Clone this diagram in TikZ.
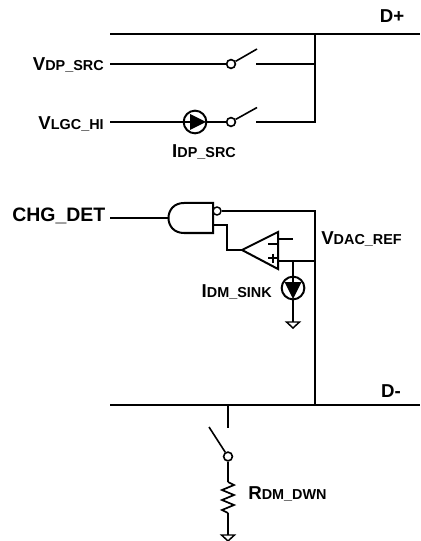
\documentclass[tikz,border=0pt]{standalone}
\usepackage{fontspec}
\setmainfont{Liberation Sans}
\newcommand{\biglab}[2]{{\fontsize{14}{15}\selectfont\bfseries #1}{\fontsize{10.8}{12}\selectfont\bfseries #2}}
\tikzset{
 wire/.style={line width=1.5pt,line cap=butt},
 thin wire/.style={line width=1.2pt},
 pivot/.style={circle,draw,line width=1.2pt,fill=white,minimum size=6.6pt,inner sep=0pt},
 source/.style={circle,draw,line width=1.5pt,fill=white,minimum size=17pt,inner sep=0pt},
 bubble/.style={circle,draw,line width=1.1pt,fill=white,minimum size=6pt,inner sep=0pt},
 lab/.style={inner sep=0pt,text=black},
 gnd/.style={draw,line width=1.1pt,fill=white,line join=miter}
}
\begin{document}
\begin{tikzpicture}[x=0.75pt,y=-0.75pt]
\useasboundingbox (0,0) rectangle (420,541);
% coordinates
\coordinate (dpL) at (110,34); \coordinate (dpR) at (420,34); \coordinate (dpJ) at (315,34);
\coordinate (dmL) at (110,405); \coordinate (dmR) at (420,405); \coordinate (dmS) at (228,405);
\coordinate (a1) at (110,64); \coordinate (a2) at (256,64); \coordinate (a3) at (315,64);
\coordinate (b1) at (110,122); \coordinate (b2) at (256,122); \coordinate (b3) at (315,122);
\node[pivot] (p1) at (231,64) {};
\node[pivot] (p2) at (231,122) {};
\coordinate (l1) at (257,49); \coordinate (l2) at (257,107.5);
\node[source] (isrc) at (195,122) {};
% buses
\draw[wire] (dpL)--(dpR);
\draw[wire] (dmL)--(dmR);
\draw[wire] (dpJ)--(b3)--(b2);
\draw[wire] (a1)--(p1);
\draw[wire] (a2)--(a3);
\draw[wire] (b1)--(isrc);
\draw[wire] (isrc)--(p2);
\draw[thin wire] (p1)--(l1);
\draw[thin wire] (p2)--(l2);
\fill (190,114)--(206,122)--(190,130)--cycle;
\draw[wire] (isrc.west)--(190,122);
% gate
\draw[wire,fill=white] (213,203)--(184,203) .. controls (174,203) and (168.5,210) .. (168.5,218) .. controls (168.5,226) and (174,233) .. (184,233)--(213,233)--cycle;
\coordinate (gi) at (169,218);
\coordinate (go) at (110,218);
\draw[wire] (go)--(gi);
\node[bubble] (bb) at (217,211) {};
\coordinate (vt) at (315,211);
\coordinate (vb) at (315,405);
\draw[wire] (bb)--(vt)--(vb);
\coordinate (tip) at (242,250);
\draw[wire] (213,225)-|(227,250)--(tip);
\draw[wire,line join=miter] (tip)--(278,232)--(278,269)--cycle;
\draw[wire] (278,239)--(293,239);
\draw[wire] (278,261)--(315,261);
\draw[line width=1.5pt] (268,244)--(277,244);
\draw[line width=1.5pt] (268,258)--(277,258) (272.5,253.5)--(272.5,262.5);
\node[source] (isink) at (293,288) {};
\coordinate (sk) at (293,261);
\coordinate (g1) at (293,322);
\draw[wire] (sk)--(isink);
\draw[wire] (isink)--(g1);
\fill (284.5,282)--(301.5,282)--(293,299)--cycle;
\draw[wire] (293,276)--(293,284);
\draw[gnd] (286.5,322)--(299.5,322)--(293,328)--cycle;
% pull-down
\coordinate (sb) at (228,428);
\draw[wire] (dmS)--(sb);
\node[pivot] (p3) at (228,456.5) {};
\coordinate (l3) at (209,427);
\draw[thin wire] (p3)--(l3);
\coordinate (r0) at (228,482);
\coordinate (r1) at (228,513);
\coordinate (g2) at (228,535);
\draw[wire] (p3)--(r0);
\draw[line width=1.3pt,line join=miter] (r0)--(234,485)--(222,490)--(234,495)--(222,500)--(234,505)--(222,510)--(r1);
\draw[wire] (r1)--(g2);
\draw[gnd] (221.5,535)--(234.5,535)--(228,541)--cycle;
% labels
\node[lab,anchor=base east] (t1) at (104,71) {\biglab{V}{DP\_SRC}};
\node[lab,anchor=base east] (t2) at (104,130) {\biglab{V}{LGC\_HI}};
\node[lab,anchor=base] (t3) at (204,158) {\biglab{I}{DP\_SRC}};
\node[lab,anchor=base] (t4) at (392,23) {\fontsize{14}{15}\selectfont\bfseries D+};
\node[lab,anchor=base] (t5) at (391,397) {\fontsize{14}{15}\selectfont\bfseries D-};
\node[lab,anchor=base west] (t6) at (12,222) {\fontsize{14.6}{15}\selectfont\bfseries CHG\_DET};
\node[lab,anchor=base west] (t7) at (321,244) {\biglab{V}{DAC\_REF}};
\node[lab,anchor=base east] (t8) at (272,297) {\biglab{I}{DM\_SINK}};
\node[lab,anchor=base west] (t9) at (248,499) {\biglab{R}{DM\_DWN}};
\end{tikzpicture}
\end{document}
